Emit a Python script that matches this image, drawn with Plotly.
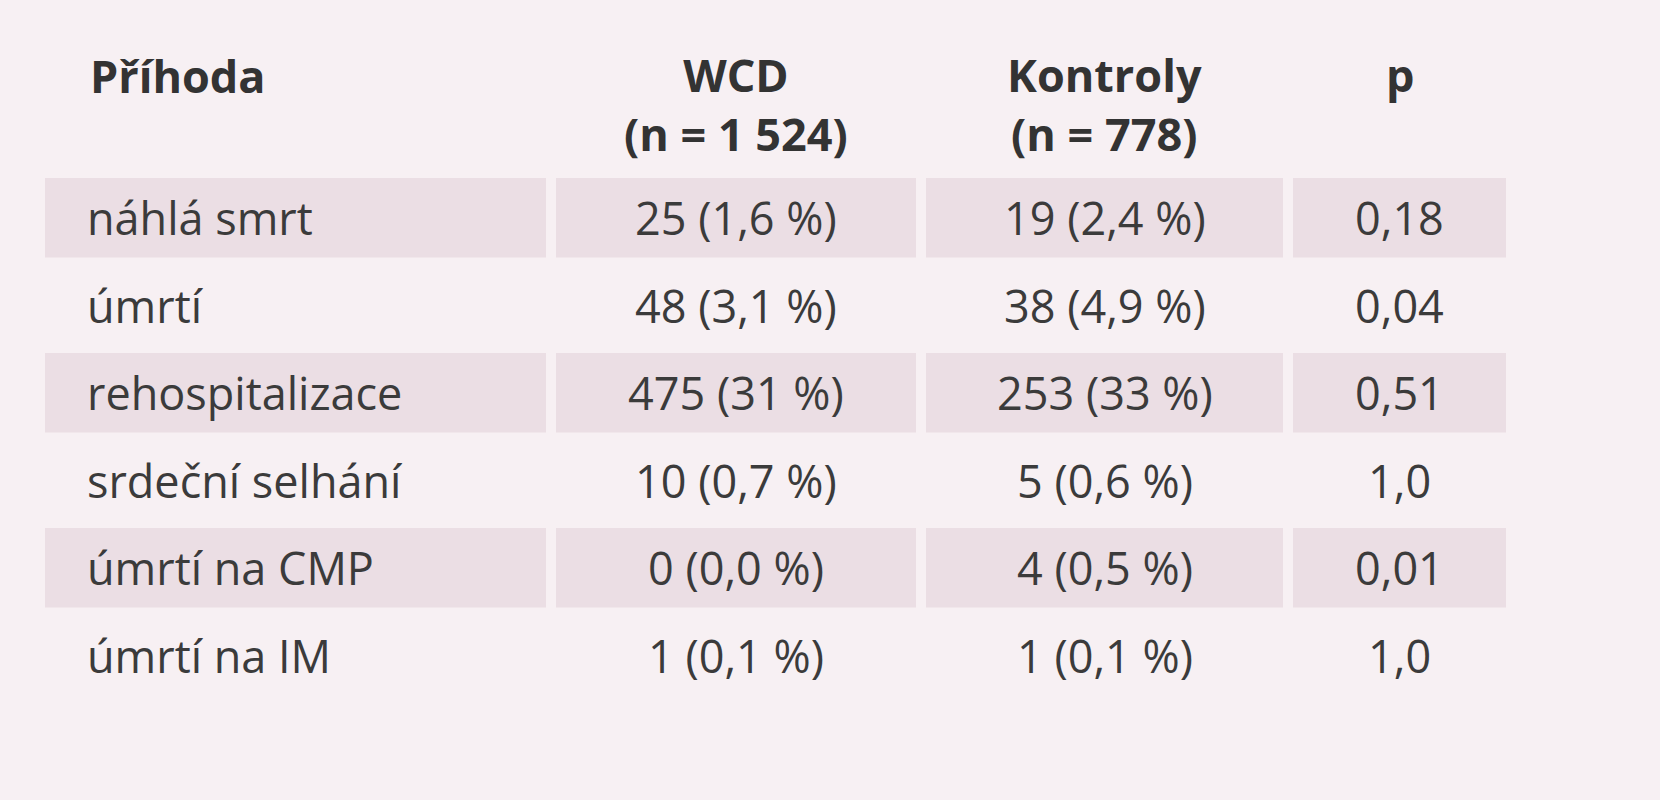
import plotly.graph_objects as go

headers = ["Příhoda", "WCD<br>(n = 1 524)", "Kontroly<br>(n = 778)", "p"]
events = ["náhlá smrt", "úmrtí", "rehospitalizace", "srdeční selhání", "úmrtí na CMP", "úmrtí na IM"]
wcd = ["25 (1,6 %)", "48 (3,1 %)", "475 (31 %)", "10 (0,7 %)", "0 (0,0 %)", "1 (0,1 %)"]
ctrl = ["19 (2,4 %)", "38 (4,9 %)", "253 (33 %)", "5 (0,6 %)", "4 (0,5 %)", "1 (0,1 %)"]
pvals = ["0,18", "0,04", "0,51", "1,0", "0,01", "1,0"]

col_edges = [(45, 546), (556, 916), (926, 1283), (1293, 1506)]
row_top, row_h = 178, 87.5
txt = "#3b3b3b"
font = dict(family="Open Sans, Noto Sans, sans-serif", size=45, color=txt)

fig = go.Figure()
shapes, ann = [], []
for i in range(len(events)):
    y0 = row_top + i * row_h
    if i % 2 == 0:
        for (a, b) in col_edges:
            shapes.append(dict(type="rect", xref="x", yref="y", x0=a, x1=b, y0=y0, y1=y0 + row_h - 8,
                               fillcolor="#ebdee4", line_width=0, layer="below"))
    yc = y0 + row_h / 2 - 4
    ann.append(dict(x=85, y=yc, text=events[i], xanchor="left", showarrow=False, font=font))
    for j, vals in enumerate([wcd, ctrl, pvals]):
        a, b = col_edges[j + 1]
        ann.append(dict(x=(a + b) / 2, y=yc, text=vals[i], showarrow=False, font=font))

hfont = dict(font, color="#333333")
ann.append(dict(x=88, y=75, text="<b>" + headers[0] + "</b>", xanchor="left", showarrow=False, font=hfont))
for j in range(1, 4):
    a, b = col_edges[j]
    ann.append(dict(x=(a + b) / 2, y=42, yanchor="top", text="<b>" + headers[j] + "</b>",
                    showarrow=False, font=hfont))

fig.add_trace(go.Scatter(x=[0, 1660], y=[0, 800], mode="markers", marker_opacity=0, hoverinfo="skip"))
fig.update_layout(width=1660, height=800, margin=dict(l=0, r=0, t=0, b=0),
                  paper_bgcolor="#f7f0f3", plot_bgcolor="#f7f0f3", showlegend=False,
                  shapes=shapes, annotations=ann,
                  xaxis=dict(range=[0, 1660], visible=False, fixedrange=True),
                  yaxis=dict(range=[800, 0], visible=False, fixedrange=True))
fig.write_html("out.html", config={"displayModeBar": False},
               post_script="document.body.style.margin='0';document.body.style.overflow='hidden';document.body.style.background='#f7f0f3';")
